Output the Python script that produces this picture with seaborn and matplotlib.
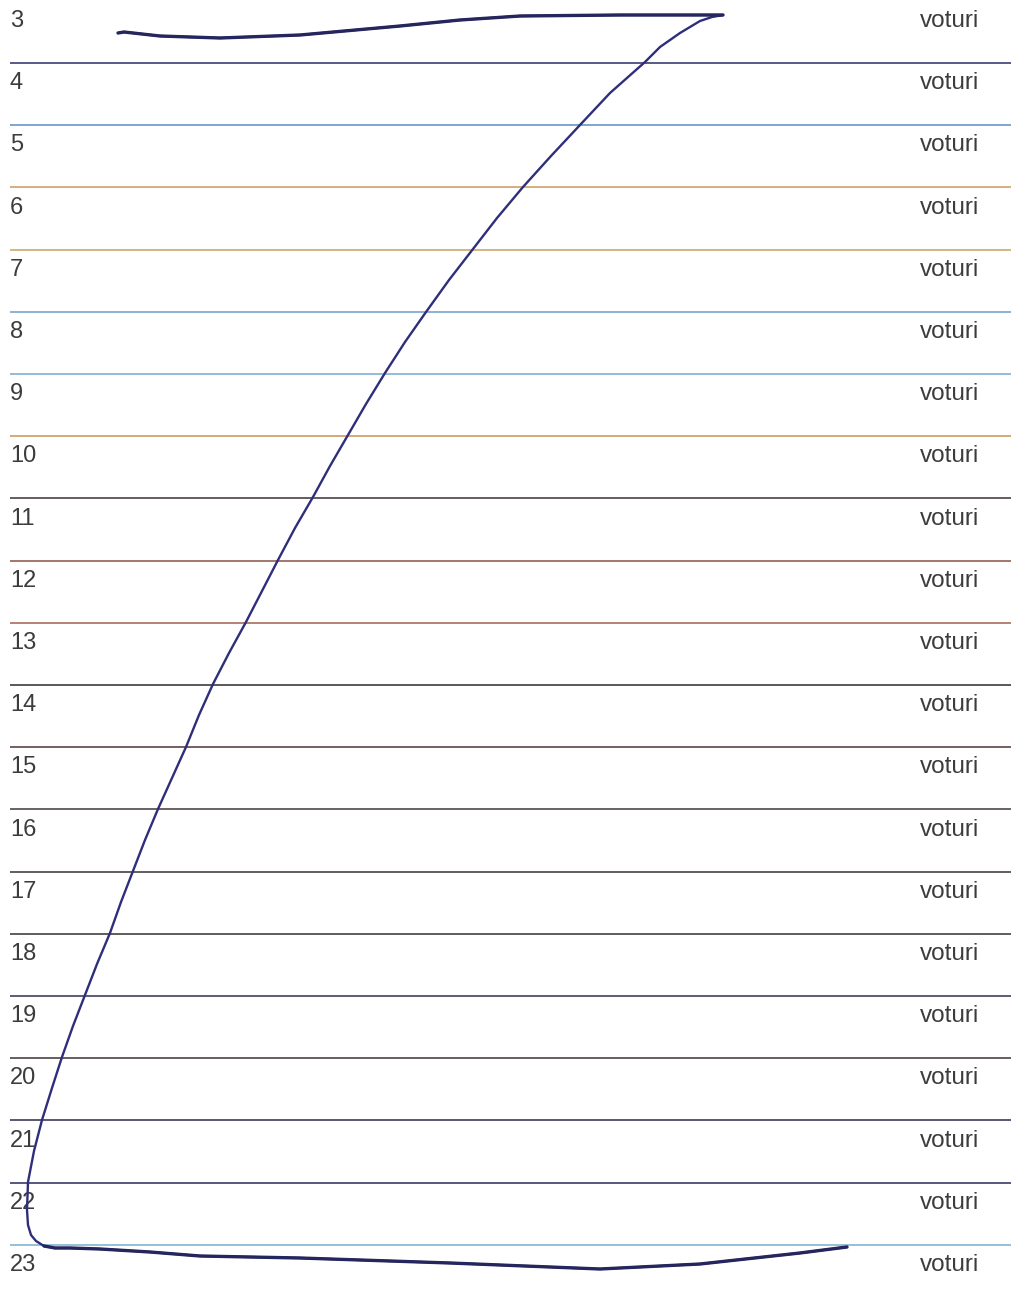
import matplotlib
matplotlib.use("Agg")
import numpy as np
import pandas as pd
import matplotlib.pyplot as plt
import seaborn as sns

# form rows (candidate numbers) and the label printed on the right
rows = [3, 4, 5, 6, 7, 8, 9, 10, 11, 12, 13, 14, 15, 16, 17, 18, 19, 20, 21, 22, 23]
right_label = "voturi"

# ink colour of each ruled line under a row (scan colours, 3 .. 22)
rule_colors = ["#2c2c66", "#5b8cc2", "#c89a5c", "#c6a262", "#6c9cc8",
               "#78a8cc", "#c89252", "#3a3232", "#8a5242", "#a0604a",
               "#302a2a", "#4e3434", "#403838", "#3a3232", "#323232",
               "#303250", "#403232", "#2a2a4a", "#2a2a5c", "#78aed0"]

# hand-drawn "Z" strike-through (page pixels)
stroke_x = [118, 124, 160, 220, 300, 400, 460, 520, 620, 700, 723,
            712, 700, 680, 660, 645, 610, 580, 551, 523, 497, 473, 449,
            426, 405, 385, 366, 348, 330, 313, 295, 278, 262, 246, 229,
            213, 199, 186, 172, 158, 145, 133, 121, 110, 97, 85, 73,
            62, 52, 42, 34, 28, 27, 28, 31, 36, 44, 55, 70, 100,
            150, 200, 300, 450, 600, 700, 800, 847]
stroke_y = [33, 32, 36, 38, 35, 26, 20, 16, 15, 15, 15,
            17, 21, 33, 47, 62, 93, 125, 156, 187, 218, 249, 280,
            312, 342, 373, 404, 435, 466, 497, 528, 560, 591, 622, 653,
            684, 715, 747, 778, 809, 840, 871, 902, 933, 964, 995, 1026,
            1057, 1088, 1120, 1151, 1182, 1210, 1225, 1235, 1241, 1246, 1248, 1248, 1249,
            1252, 1256, 1258, 1263, 1269, 1264, 1253, 1247]

# page layout
W, H = 1012, 1299
row_top = 21.0      # centre of first label
row_pitch = 62.2    # distance between rows
rule_offset = 42.0  # ruled line below label centre

sns.set_theme(style="white")
plt.rcParams["font.family"] = ["Liberation Sans", "DejaVu Sans"]

fig = plt.figure(figsize=(W / 100, H / 100), dpi=100)
ax = fig.add_axes([0, 0, 1, 1])

label_y = [row_top + i * row_pitch for i in range(len(rows))]
rule_y = [y + rule_offset for y in label_y[:-1]]

for y, c in zip(rule_y, rule_colors):
    ax.hlines(y, 10, W, colors=c, linewidth=1.1, zorder=1)

for r, y in zip(rows, label_y):
    ax.text(10, y, str(r), ha="left", va="center", fontsize=17, color="#3c3c3c")
    ax.text(920, y, right_label, ha="left", va="center", fontsize=17.5, color="#3c3c3c")

stroke = pd.DataFrame({"x": stroke_x, "y": stroke_y})
n_top = 11
n_bottom_start = 56
sns.lineplot(data=stroke, x="x", y="y", sort=False, estimator=None,
             color="#2e2e7a", linewidth=1.7, ax=ax, zorder=3)
# heavier pen pressure on the two horizontal strokes
sns.lineplot(data=stroke.iloc[:n_top], x="x", y="y", sort=False, estimator=None,
             color="#26265e", linewidth=2.4, ax=ax, zorder=4)
sns.lineplot(data=stroke.iloc[n_bottom_start:], x="x", y="y", sort=False, estimator=None,
             color="#26265e", linewidth=2.4, ax=ax, zorder=4)

ax.set_xlim(0, W)
ax.set_ylim(H, 0)
ax.set_axis_off()
fig.savefig("out.png", dpi=100)
plt.close(fig)
